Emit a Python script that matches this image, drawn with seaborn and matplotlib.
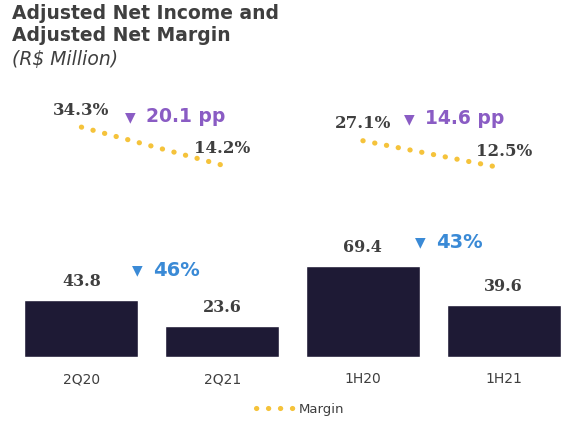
import numpy as np
import pandas as pd
import seaborn as sns
import matplotlib.pyplot as plt
from matplotlib.lines import Line2D

periods = ['2Q20', '2Q21', '1H20', '1H21']
net_income = [43.8, 23.6, 69.4, 39.6]
margin = [34.3, 14.2, 27.1, 12.5]
pair = ['Q', 'Q', 'H', 'H']

income_var = ['46%', '43%']
margin_var = ['20.1 pp', '14.6 pp']

BAR_COLOR = '#1e1a35'
LINE_COLOR = '#f5c33b'
PURPLE = '#8a5cc4'
BLUE = '#3a8ad6'
TXT = '#3f3f3f'
DOTS = (0, (0.05, 2.28))

sns.set_theme(style='white')
plt.rcParams['font.family'] = ['DejaVu Sans']

df = pd.DataFrame({'period': periods, 'income': net_income,
                   'margin': margin, 'pair': pair, 'pos': range(len(periods))})

fig = plt.figure(figsize=(5.67, 4.33), dpi=100)
ax = fig.add_axes([11 / 567, 76 / 433, 556 / 567, 297 / 433])

sns.barplot(data=df, x='period', y='income', color=BAR_COLOR,
            width=0.81, saturation=1, ax=ax)
ax.set_xlim(-0.5, 3.45)
ax.set_ylim(0, 227)
ax.bar_label(ax.containers[0], fmt='%.1f', padding=7,
             family='DejaVu Serif', weight='bold', fontsize=11.5, color=TXT)
ax.set_xlabel('')
ax.set_ylabel('')
ax.set_yticks([])
ax.tick_params(axis='x', length=0, labelsize=10, labelcolor=TXT, pad=11)
sns.despine(ax=ax, left=True, bottom=True)

ax2 = ax.twinx()
sns.lineplot(data=df, x='pos', y='margin', units='pair', estimator=None,
             color=LINE_COLOR, linewidth=3.7, ax=ax2,
             linestyle=DOTS, dash_capstyle='round')
ax2.set_ylim(-87.3, 69.8)
ax2.set_axis_off()
for x, v in zip(df['pos'], margin):
    ax2.annotate(f'{v:.1f}%', (x, v), xytext=(0, 6), textcoords='offset points',
                 ha='center', va='bottom', family='DejaVu Serif',
                 weight='bold', fontsize=12, color=TXT)

# variation callouts
for (xt, y), lab in zip([(0.35, 39.7), (2.33, 38.6)], margin_var):
    ax2.text(xt, y, '▼', color=PURPLE, fontsize=10, ha='center', va='center')
    ax2.text(xt + 0.11, y, lab, color=PURPLE, fontsize=13.5, weight='bold',
             ha='left', va='center')
for (xt, y), lab in zip([(0.40, 66.4), (2.41, 87.8)], income_var):
    ax.text(xt, y, '▼', color=BLUE, fontsize=10, ha='center', va='center')
    ax.text(xt + 0.11, y, lab, color=BLUE, fontsize=14, weight='bold',
            ha='left', va='center')

# titles
fig.text(12 / 567, 1 - 4 / 433, 'Adjusted Net Income and\nAdjusted Net Margin',
         fontsize=13.5, weight='bold', color=TXT, va='top', linespacing=1.2)
fig.text(12 / 567, 1 - 50 / 433, '(R$ Million)', fontsize=13.5,
         style='italic', color=TXT, va='top')

handle = Line2D([], [], color=LINE_COLOR, linewidth=3.7,
                linestyle=DOTS, dash_capstyle='round')
fig.legend([handle], ['Margin'], loc='center', bbox_to_anchor=(300 / 567, 1 - 409 / 433),
           frameon=False, fontsize=9.5, handlelength=3.2, handletextpad=0.05,
           labelcolor=TXT)

fig.savefig('out.png', dpi=100)
